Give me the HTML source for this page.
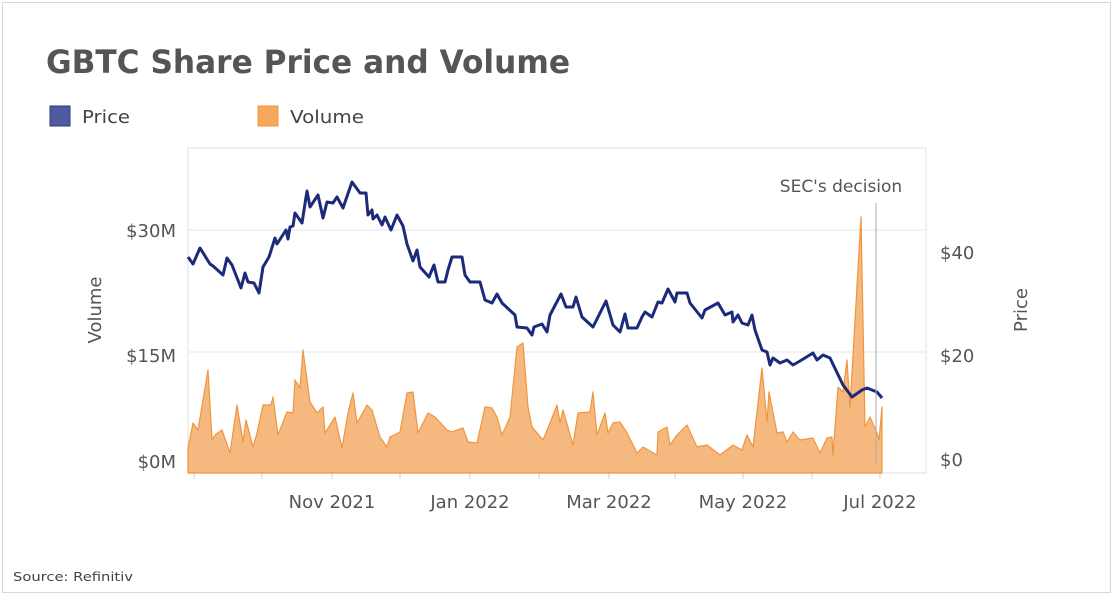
<!DOCTYPE html>
<html><head><meta charset="utf-8"><style>
body{margin:0;background:#fff;}
svg{display:block;font-family:"DejaVu Sans","Liberation Sans",sans-serif;}
</style></head><body>
<svg width="1114" height="596" viewBox="0 0 1114 596">
<rect x="2.5" y="2.5" width="1108" height="590" fill="#fff" stroke="#d8d8d8"/>
<text x="46" y="73" font-size="32" font-weight="bold" fill="#555" textLength="524" lengthAdjust="spacingAndGlyphs">GBTC Share Price and Volume</text>
<rect x="50" y="106" width="20" height="20" fill="#4f5b9c" stroke="#2e3a80"/>
<text x="82" y="123" font-size="18" fill="#444" textLength="48" lengthAdjust="spacingAndGlyphs">Price</text>
<rect x="258" y="106" width="20" height="20" fill="#f6a95c" stroke="#ef9a44"/>
<text x="290" y="123" font-size="18" fill="#444" textLength="74" lengthAdjust="spacingAndGlyphs">Volume</text>
<rect x="188" y="148" width="738" height="325" fill="none" stroke="#e2e2e2"/>
<line x1="188" y1="230" x2="926" y2="230" stroke="#e6e6e6"/>
<line x1="188" y1="352" x2="926" y2="352" stroke="#e6e6e6"/>
<g stroke="#ccc">
<line x1="194" y1="473" x2="194" y2="479"/><line x1="262" y1="473" x2="262" y2="479"/><line x1="332" y1="473" x2="332" y2="479"/><line x1="400" y1="473" x2="400" y2="479"/><line x1="470" y1="473" x2="470" y2="479"/><line x1="539" y1="473" x2="539" y2="479"/><line x1="609" y1="473" x2="609" y2="479"/><line x1="675" y1="473" x2="675" y2="479"/><line x1="743" y1="473" x2="743" y2="479"/><line x1="812" y1="473" x2="812" y2="479"/><line x1="880" y1="473" x2="880" y2="479"/>
</g>
<g font-size="18" fill="#555">
<text x="176" y="237" text-anchor="end">$30M</text>
<text x="176" y="362" text-anchor="end">$15M</text>
<text x="176" y="468" text-anchor="end">$0M</text>
<text x="940" y="259">$40</text>
<text x="940" y="362">$20</text>
<text x="940" y="466">$0</text>
<text x="332" y="508" text-anchor="middle">Nov 2021</text>
<text x="470" y="508" text-anchor="middle">Jan 2022</text>
<text x="609" y="508" text-anchor="middle">Mar 2022</text>
<text x="743" y="508" text-anchor="middle">May 2022</text>
<text x="880" y="508" text-anchor="middle">Jul 2022</text>
<text transform="translate(101,310) rotate(-90)" text-anchor="middle">Volume</text>
<text transform="translate(1027,310) rotate(-90)" text-anchor="middle">Price</text>
</g>
<polygon fill="#f5b97f" stroke="#f0953c" stroke-width="1.2" stroke-linejoin="round" points="188,473 188,448 193,423 198,430 208,370 212,440 215,435 222,430 230,453 237,405 243,442 246,420 253,447 257,433 263,405 271,405 273,397 278,435 287,412 293,413 295,380 300,388 303,350 310,402 317,413 323,407 325,433 335,417 342,448 348,413 353,393 357,423 367,405 372,410 380,437 387,447 390,437 400,432 407,393 413,392 418,433 428,413 435,417 447,430 452,432 463,428 468,442 477,443 485,407 492,408 497,417 502,435 510,417 517,347 523,343 528,407 532,427 543,440 550,423 557,405 560,423 563,410 573,445 578,413 590,412 593,392 597,435 605,413 608,433 613,423 620,422 627,433 637,453 643,447 657,455 658,432 667,427 670,445 677,435 687,425 697,447 707,445 720,455 733,445 742,450 747,435 753,447 762,368 767,422 769,392 777,433 783,432 787,442 793,432 800,440 813,438 820,453 827,438 832,437 833,455 838,387 843,392 847,360 850,407 861,217 865,427 870,417 877,433 879,440 882,407 882,473"/>
<polyline fill="none" stroke="#1c2a7a" stroke-width="3" stroke-linejoin="round" points="188,257 193,264 200,248 210,264 213,266 223,275 227,258 232,265 241,288 245,273 248,282 254,283 259,293 263,267 269,257 275,238 277,244 286,230 288,239 290,227 293,226 295,213 302,223 307,191 310,207 318,195 323,218 327,202 333,203 337,197 343,208 352,182 360,193 366,193 368,215 372,210 373,219 377,215 382,225 385,217 391,230 397,215 403,226 407,244 413,261 417,250 420,267 429,277 434,265 438,282 445,282 448,270 452,257 462,257 465,275 470,282 480,282 485,300 492,303 497,294 502,303 515,315 517,327 527,328 532,335 534,327 542,324 547,332 550,315 561,294 566,307 573,307 576,297 582,317 593,327 606,301 613,325 620,332 625,314 628,328 637,328 642,317 645,312 652,317 658,302 662,303 668,289 675,302 677,293 687,293 690,303 702,318 705,310 718,303 725,315 732,312 733,322 738,315 742,323 748,325 752,315 755,330 762,350 767,352 770,365 773,358 780,363 787,360 793,365 800,361 813,353 817,360 823,355 830,358 843,385 852,397 862,390 867,388 877,392 882,398"/>
<line x1="876" y1="203" x2="876" y2="465" stroke="#aaa" stroke-width="1"/>
<text x="841" y="192" font-size="17" fill="#555" text-anchor="middle">SEC's decision</text>
<text x="13" y="581" font-size="12" fill="#444" textLength="120" lengthAdjust="spacingAndGlyphs">Source: Refinitiv</text>
</svg>
</body></html>
